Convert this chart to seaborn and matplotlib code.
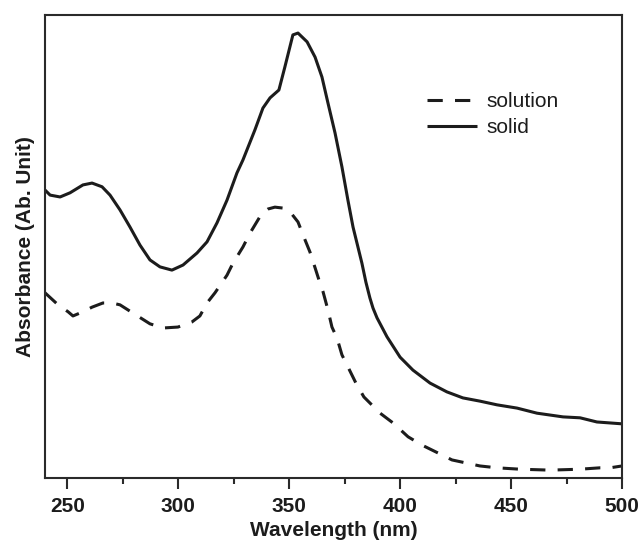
import numpy as np
import pandas as pd
import matplotlib
matplotlib.use("Agg")
import matplotlib.pyplot as plt
from matplotlib.ticker import MultipleLocator, NullLocator
import seaborn as sns

# ---- data (arbitrary absorbance units) ----
solid_wl = [240.0, 242.3, 246.8, 251.3, 257.1, 261.2, 265.7, 269.3, 273.8, 278.3,
            282.8, 287.3, 291.8, 297.2, 302.2, 308.5, 313.0, 317.5, 322.0, 326.5,
            329.2, 334.6, 338.2, 341.4, 345.4, 348.1, 351.7, 354.0, 358.1, 361.7,
            364.8, 367.5, 370.7, 373.8, 376.5, 378.8, 382.8, 384.6, 386.4, 387.8,
            389.6, 394.1, 400.0, 405.8, 413.5, 421.1, 428.3, 436.0, 443.7, 452.7,
            461.7, 473.4, 481.1, 488.7, 500.0]
solid_abs = [0.622, 0.611, 0.607, 0.616, 0.633, 0.637, 0.629, 0.611, 0.579, 0.542,
             0.503, 0.471, 0.456, 0.449, 0.460, 0.486, 0.510, 0.551, 0.600, 0.659,
             0.687, 0.752, 0.799, 0.821, 0.838, 0.888, 0.957, 0.961, 0.942, 0.909,
             0.866, 0.810, 0.745, 0.672, 0.600, 0.542, 0.464, 0.423, 0.389, 0.367,
             0.346, 0.305, 0.261, 0.233, 0.205, 0.186, 0.173, 0.166, 0.158, 0.151,
             0.140, 0.132, 0.130, 0.121, 0.117]

solution_wl = [240.0, 245.9, 250.4, 252.6, 257.1, 261.2, 266.1, 270.2, 273.8, 279.7,
               287.3, 293.2, 299.9, 306.2, 309.8, 313.0, 316.6, 322.0, 324.7, 329.2,
               332.4, 337.8, 340.5, 343.6, 347.2, 350.4, 354.0, 357.2, 359.4, 361.7,
               363.9, 365.3, 367.5, 369.3, 371.6, 373.8, 376.5, 380.1, 383.7, 391.0,
               396.8, 403.6, 409.9, 417.1, 423.4, 430.2, 436.0, 443.7, 454.0, 467.6,
               481.1, 490.1, 494.6, 500.0]
solution_abs = [0.400, 0.374, 0.359, 0.350, 0.359, 0.369, 0.378, 0.378, 0.374, 0.356,
                0.333, 0.324, 0.326, 0.337, 0.350, 0.378, 0.400, 0.438, 0.464, 0.499,
                0.529, 0.572, 0.581, 0.585, 0.583, 0.575, 0.553, 0.514, 0.488, 0.454,
                0.421, 0.402, 0.363, 0.326, 0.302, 0.266, 0.240, 0.205, 0.175, 0.140,
                0.119, 0.089, 0.071, 0.054, 0.039, 0.032, 0.026, 0.022, 0.019, 0.017,
                0.019, 0.022, 0.022, 0.026]

series_names = ["solution", "solid"]
x_ticks = [250, 300, 350, 400, 450, 500]
x_label = "Wavelength (nm)"
y_label = "Absorbance (Ab. Unit)"

df = pd.concat([
    pd.DataFrame({"wl": solution_wl, "abs": solution_abs, "sample": "solution"}),
    pd.DataFrame({"wl": solid_wl, "abs": solid_abs, "sample": "solid"}),
], ignore_index=True)

sns.set_theme(style="ticks")
plt.rcParams["font.family"] = ["Liberation Sans", "DejaVu Sans"]

ink = "#1c1c1c"
fig = plt.figure(figsize=(6.42, 5.47), dpi=100)
ax = fig.add_axes([45 / 642, 1 - 478 / 547, 577 / 642, 463 / 547])

sns.lineplot(data=df, x="wl", y="abs", style="sample", style_order=series_names,
             dashes={"solution": (5, 4), "solid": ""}, color=ink, linewidth=2.2,
             sort=False, estimator=None, ax=ax, legend=True)

for ln in ax.get_lines():
    ln.set_dash_capstyle("butt")
    ln.set_solid_joinstyle("round")
    ln.set_solid_capstyle("butt")

ax.set_xlim(240, 500)
ax.set_ylim(0, 1)
ax.xaxis.set_major_locator(MultipleLocator(50))
ax.xaxis.set_minor_locator(MultipleLocator(25))
ax.set_xticks(x_ticks)
ax.yaxis.set_major_locator(NullLocator())
ax.yaxis.set_minor_locator(NullLocator())

for sp in ax.spines.values():
    sp.set_visible(True)
    sp.set_linewidth(1.5)
    sp.set_color("#2a2a2a")

ax.tick_params(axis="x", which="major", direction="out", length=8, width=1.5,
               color="#2a2a2a", labelsize=15, pad=6, bottom=True, top=False)
ax.tick_params(axis="x", which="minor", direction="out", length=4, width=1.5,
               color="#2a2a2a", bottom=True, top=False)
for lab in ax.get_xticklabels():
    lab.set_fontweight("bold")
    lab.set_color(ink)

ax.set_xlabel(x_label, fontsize=15, fontweight="bold", color=ink, labelpad=3)
ax.set_ylabel(y_label, fontsize=15, fontweight="bold", color=ink, labelpad=7)

handles, labels = ax.get_legend_handles_labels()
pairs = [(h, l) for h, l in zip(handles, labels) if l in series_names]
leg = ax.legend([p[0] for p in pairs], [p[1] for p in pairs],
                loc="upper left", bbox_to_anchor=(0.662, 0.834), frameon=False,
                fontsize=15, handlelength=2.4, handletextpad=0.45,
                labelspacing=0.35, borderaxespad=0, borderpad=0)
for t in leg.get_texts():
    t.set_color(ink)
for h in leg.get_lines():
    h.set_linewidth(2.2)
    h.set_color(ink)

fig.savefig("out.png", dpi=100, facecolor="white")
